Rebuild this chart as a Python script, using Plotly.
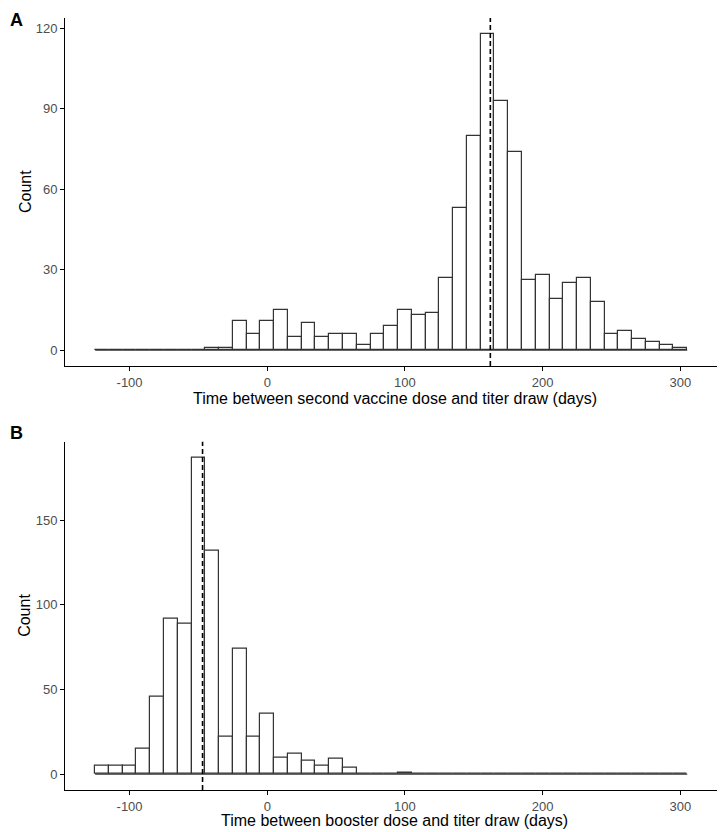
import plotly.graph_objects as go

# ---- data ----
bin_centers = list(range(-120, 301, 10))
bin_width = 10

counts_second_dose = [0, 0, 0, 0, 0, 0, 0, 0,        # -120 .. -50
                      1, 1, 11, 6, 11, 15, 5, 10, 5, 6,   # -40 .. 50
                      6, 2, 6, 9, 15, 13, 14, 27, 53, 80,  # 60 .. 150
                      118, 93, 74, 26, 28, 19, 25, 27, 18, 6,  # 160 .. 250
                      7, 4, 3, 2, 1]                    # 260 .. 300

counts_booster = [5, 5, 5, 15, 46, 92, 89, 187, 132, 22,   # -120 .. -30
                  74, 22, 36, 10, 12, 8, 5, 9, 4, 0,        # -20 .. 70
                  0, 0, 1] + [0] * 20                        # 80 .. 300

median_second_dose = 162
median_booster = -47

x_tick_vals = [-100, 0, 100, 200, 300]
x_tick_text = ["-100", "0", "100", "200", "300"]
y_ticks_a = [0, 30, 60, 90, 120]
y_ticks_b = [0, 50, 100, 150]

x_title_a = "Time between second vaccine dose and titer draw (days)"
x_title_b = "Time between booster dose and titer draw (days)"
y_title = "Count"

# ---- figure ----
FONT = "Liberation Sans, Arial, Helvetica, sans-serif"
BAR_LINE = "#333333"
TICK_SIZE = 13
TITLE_SIZE = 16
OFF = 8  # page body margin
W, H = 725 - OFF, 832 - OFF

# target page-pixel positions (reference coords)
PLOT_L, PLOT_R = 65, 724
A_TOP, A_BOT = 18, 366
B_TOP, B_BOT = 441.7, 790

ML = PLOT_L - OFF
MR = W - (PLOT_R - OFF)
MT = A_TOP - OFF
MB = H - (B_BOT - OFF)

fig = go.Figure()

edges_lo = bin_centers[0] - bin_width / 2
edges_hi = bin_centers[-1] + bin_width / 2

for counts, xa, ya in [(counts_second_dose, "x", "y"), (counts_booster, "x2", "y2")]:
    fig.add_trace(go.Bar(
        x=bin_centers, y=counts, width=bin_width,
        marker=dict(color="white", line=dict(color=BAR_LINE, width=1.2)),
        xaxis=xa, yaxis=ya, showlegend=False, hoverinfo="x+y",
    ))
    fig.add_trace(go.Scatter(
        x=[edges_lo, edges_hi], y=[0, 0], mode="lines",
        line=dict(color=BAR_LINE, width=1.2),
        xaxis=xa, yaxis=ya, showlegend=False, hoverinfo="skip",
    ))

for med, xr, yr in [(median_second_dose, "x", "y domain"), (median_booster, "x2", "y2 domain")]:
    fig.add_shape(type="line", xref=xr, yref=yr, x0=med, x1=med, y0=0, y1=1,
                  line=dict(color="black", width=1.6, dash="5px,3px"))

x_range = [-146.9, 331.7]
common_x = dict(range=x_range, showline=True, linecolor="black", linewidth=1,
                ticks="outside", ticklen=4, tickcolor="black", tickwidth=1,
                tickvals=x_tick_vals, ticktext=x_tick_text,
                tickfont=dict(family=FONT, size=TICK_SIZE, color="#4d4d4d"),
                showgrid=False, zeroline=False, fixedrange=True)
common_y = dict(showline=True, linecolor="black", linewidth=1,
                ticks="outside", ticklen=4, tickcolor="black", tickwidth=1,
                tickfont=dict(family=FONT, size=TICK_SIZE, color="#4d4d4d"),
                showgrid=False, zeroline=False, fixedrange=True)

plot_h = H - MT - MB
pw = W - ML - MR


def px_x(p):
    return (p - OFF - ML) / pw


def px_y(p):
    return (H - MB - (p - OFF)) / plot_h


dom_a = [px_y(A_BOT), 1.0]
dom_b = [0.0, px_y(B_TOP)]

fig.update_layout(
    width=W, height=H,
    margin=dict(l=ML, r=MR, t=MT, b=MB, pad=0),
    paper_bgcolor="white", plot_bgcolor="white",
    bargap=0,
    font=dict(family=FONT, color="black"),
    xaxis=dict(common_x, domain=[0, 1], anchor="y"),
    yaxis=dict(common_y, domain=dom_a, range=[-5.9, 123.9], tickvals=y_ticks_a, anchor="x"),
    xaxis2=dict(common_x, domain=[0, 1], anchor="y2"),
    yaxis2=dict(common_y, domain=dom_b, range=[-9.35, 196.35], tickvals=y_ticks_b, anchor="x2"),
)

ann = []
# x-axis titles
ann.append(dict(text=x_title_a, x=0.5, y=px_y(398), xref="paper", yref="paper",
                xanchor="center", yanchor="middle", showarrow=False,
                font=dict(family=FONT, size=TITLE_SIZE, color="black")))
ann.append(dict(text=x_title_b, x=0.5, y=px_y(821), xref="paper", yref="paper",
                xanchor="center", yanchor="middle", showarrow=False,
                font=dict(family=FONT, size=TITLE_SIZE, color="black")))
# y-axis titles
for cy in [(A_TOP + A_BOT) / 2, (B_TOP + B_BOT) / 2]:
    ann.append(dict(text=y_title, x=px_x(25), y=px_y(cy), xref="paper", yref="paper",
                    xanchor="center", yanchor="middle", textangle=-90, showarrow=False,
                    font=dict(family=FONT, size=TITLE_SIZE, color="black")))
# panel labels (kept inside the figure's own canvas)
ann.append(dict(text="<b>A</b>", x=px_x(OFF), y=px_y(OFF), xref="paper", yref="paper",
                xanchor="left", yanchor="top", showarrow=False,
                font=dict(family=FONT, size=18, color="black")))
ann.append(dict(text="<b>B</b>", x=px_x(OFF), y=px_y(433), xref="paper", yref="paper",
                xanchor="left", yanchor="middle", showarrow=False,
                font=dict(family=FONT, size=18, color="black")))
fig.update_layout(annotations=ann)

fig.write_html("out.html")
